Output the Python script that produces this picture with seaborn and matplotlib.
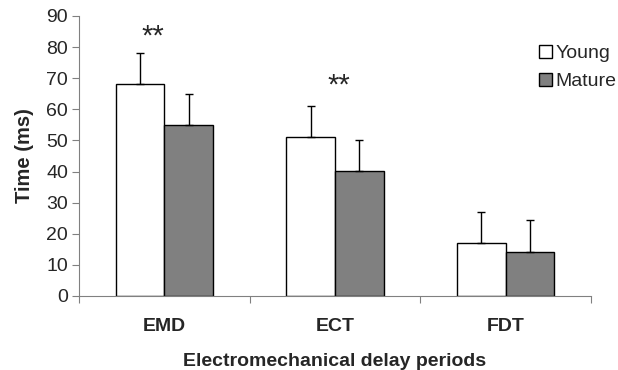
import matplotlib
matplotlib.use("Agg")
import matplotlib.pyplot as plt
import seaborn as sns
import pandas as pd
import numpy as np
from matplotlib.patches import Patch

categories = ["EMD", "ECT", "FDT"]
groups = ["Young", "Mature"]
young_mean = [68.0, 51.2, 16.9]
mature_mean = [55.0, 40.3, 14.2]
young_sd = [10.2, 10.0, 10.1]
mature_sd = [10.0, 9.9, 10.1]
sig_labels = ["**", "**", ""]

sns.set_style("white")
plt.rcParams['font.family'] = ['Liberation Sans', 'DejaVu Sans']

df = pd.DataFrame({
    "period": categories * 2,
    "group": ["Young"] * 3 + ["Mature"] * 3,
    "time": young_mean + mature_mean,
})
sds = {"Young": young_sd, "Mature": mature_sd}
means = {"Young": young_mean, "Mature": mature_mean}

fig = plt.figure(figsize=(6.18, 3.70), dpi=100)
ax = fig.add_axes([0.128, 0.2, 0.828, 0.757])

sns.barplot(data=df, x="period", y="time", hue="group", order=categories,
            hue_order=groups, palette={"Young": "white", "Mature": "#808080"},
            edgecolor="black", linewidth=1.0, width=0.57, errorbar=None,
            ax=ax, legend=False)

# error bars (upper only)
for container, g in zip(ax.containers, groups):
    xs = [p.get_x() + p.get_width() / 2 for p in container.patches]
    ax.errorbar(xs, means[g], yerr=[np.zeros(3), sds[g]], fmt="none",
                ecolor="black", elinewidth=1.0, capsize=3, capthick=1.0, zorder=3)

# significance asterisks
ax.text(-0.07, 83.5, sig_labels[0], ha="center", va="center", fontsize=21)
ax.text(1.02, 67.5, sig_labels[1], ha="center", va="center", fontsize=21)

ax.set_ylim(0, 90)
ax.set_xlim(-0.5, 2.5)
ax.set_yticks(range(0, 91, 10))
ax.tick_params(axis="y", labelsize=14, length=5, width=0.8, color="#808080", left=True, pad=3)
ax.tick_params(axis="x", which="major", length=0, labelsize=14, pad=16)
for lbl in ax.get_xticklabels():
    lbl.set_fontweight("bold")
ax.set_xticks([-0.5, 0.5, 1.5, 2.5], minor=True)
ax.tick_params(axis="x", which="minor", length=5, width=0.8, color="#808080", bottom=True)

for s in ["top", "right"]:
    ax.spines[s].set_visible(False)
for s in ["left", "bottom"]:
    ax.spines[s].set_color("#808080")
    ax.spines[s].set_linewidth(0.8)

ax.set_ylabel("Time (ms)", fontsize=14.5, fontweight="bold", labelpad=9)
ax.set_xlabel("Electromechanical delay periods", fontsize=14, fontweight="bold", labelpad=13)

handles = [Patch(facecolor="white", edgecolor="black", label="Young"),
           Patch(facecolor="#808080", edgecolor="black", label="Mature")]
ax.legend(handles=handles, loc="upper right", bbox_to_anchor=(1.066, 0.925), frameon=False,
          fontsize=14, handlelength=0.65, handleheight=0.65, handletextpad=0.2,
          labelspacing=0.55, borderaxespad=0)

fig.savefig("out.png", dpi=100)
